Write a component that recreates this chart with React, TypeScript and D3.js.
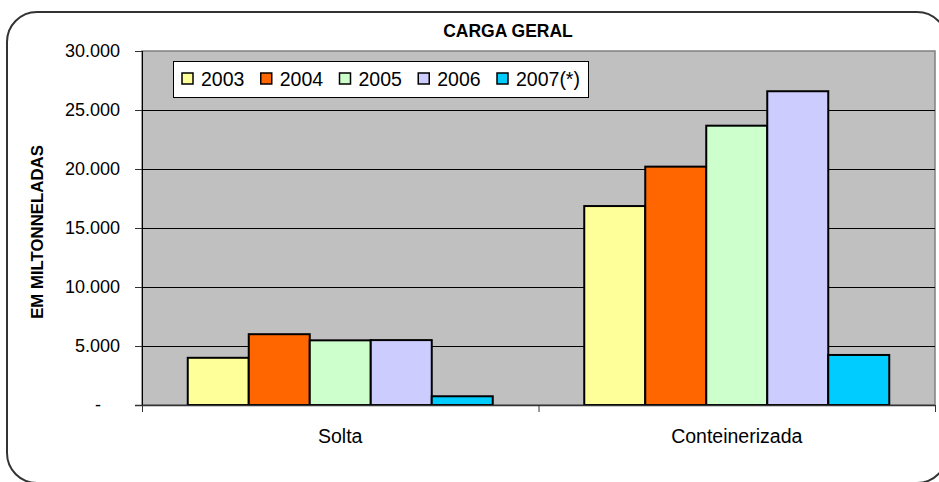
import React from "react";
import * as d3 from "d3";

const categories = ["Solta", "Conteinerizada"];
const series = ["2003", "2004", "2005", "2006", "2007(*)"];
const solta = [4000, 6000, 5480, 5500, 740];
const conteinerizada = [16860, 20200, 23670, 26590, 4240];
const colors = ["#FFFF99", "#FF6600", "#CCFFCC", "#CCCCFF", "#00CCFF"];
const yTicks = [0, 5000, 10000, 15000, 20000, 25000, 30000];
const title = "CARGA GERAL";
const yTitle = "EM MILTONNELADAS";

const W = 939;
const H = 482;
const FONT = "'Liberation Sans', Arial, sans-serif";

export default function App() {
  const plot = { left: 142, right: 935, top: 51, bottom: 405 };
  const y = d3.scaleLinear().domain([0, 30000]).range([plot.bottom, plot.top]);
  const x0 = d3.scaleBand().domain(categories).range([plot.left, plot.right]).padding(0);
  const x1 = d3
    .scaleBand()
    .domain(series)
    .range([0, x0.bandwidth()])
    .paddingInner(0)
    .paddingOuter(0.75);
  const locale = d3.formatLocale({ decimal: ",", thousands: ".", grouping: [3], currency: ["R$", ""] });
  const fmt = locale.format(",.0f");
  const values = [solta, conteinerizada];

  const legendX = d3.scalePoint().domain(series).range([182, 497]);

  return (
    <svg
      width={W}
      height={H}
      style={{ position: "absolute", left: 0, top: 0, fontFamily: FONT }}
    >
      <rect x={0} y={0} width={W} height={H} fill="#fff" />
      <rect
        x={7}
        y={12}
        width={940}
        height={471}
        rx={30}
        ry={30}
        fill="#fff"
        stroke="#333"
        strokeWidth={2}
      />
      <text x={508} y={37} textAnchor="middle" fontSize={17.5} fontWeight="bold" fill="#000">
        {title}
      </text>
      {/* plot area */}
      <rect
        x={plot.left}
        y={plot.top}
        width={plot.right - plot.left}
        height={plot.bottom - plot.top}
        fill="#C0C0C0"
        stroke="#808080"
        strokeWidth={1.5}
      />
      {yTicks.slice(1, -1).map((t) => (
        <line
          key={t}
          x1={plot.left}
          x2={plot.right}
          y1={Math.round(y(t)) + 0.5}
          y2={Math.round(y(t)) + 0.5}
          stroke="#000"
          strokeWidth={1}
        />
      ))}
      {/* bars */}
      {categories.map((c, ci) => (
        <g key={c} transform={`translate(${x0(c)},0)`}>
          {series.map((s, si) => (
            <rect
              key={s}
              x={x1(s)}
              y={y(values[ci][si])}
              width={x1.bandwidth()}
              height={plot.bottom - y(values[ci][si])}
              fill={colors[si]}
              stroke="#000"
              strokeWidth={2}
            />
          ))}
        </g>
      ))}
      {/* axes */}
      <line x1={plot.left + 0.5} x2={plot.left + 0.5} y1={plot.top} y2={plot.bottom + 7} stroke="#000" strokeWidth={1} />
      <line x1={plot.left - 7} x2={plot.right} y1={plot.bottom + 0.5} y2={plot.bottom + 0.5} stroke="#333" strokeWidth={1.5} />
      {yTicks.map((t) => (
        <g key={t}>
          <line x1={plot.left - 7} x2={plot.left} y1={Math.round(y(t)) + 0.5} y2={Math.round(y(t)) + 0.5} stroke="#333" strokeWidth={1} />
          <text
            x={t === 0 ? 101 : 120}
            y={y(t) + 6}
            textAnchor="end"
            fontSize={18}
            fill="#000"
          >
            {t === 0 ? "-" : fmt(t)}
          </text>
        </g>
      ))}
      {[...categories.map((c) => x0(c) as number), plot.right].map((xx, i) => (
        <line key={i} x1={xx + 0.5} x2={xx + 0.5} y1={plot.bottom} y2={plot.bottom + 7} stroke="#333" strokeWidth={1} />
      ))}
      {categories.map((c) => (
        <text
          key={c}
          x={(x0(c) as number) + x0.bandwidth() / 2}
          y={443}
          textAnchor="middle"
          fontSize={19.5}
          fill="#000"
        >
          {c}
        </text>
      ))}
      <text
        transform={`translate(43,232) rotate(-90)`}
        textAnchor="middle"
        fontSize={16.8}
        fontWeight="bold"
        fill="#000"
      >
        {yTitle}
      </text>
      {/* legend */}
      <rect x={173.5} y={61.5} width={415} height={36} fill="#fff" stroke="#000" strokeWidth={1} />
      {series.map((s, i) => (
        <g key={s}>
          <rect
            x={legendX(s)}
            y={73}
            width={11}
            height={11}
            fill={colors[i]}
            stroke="#000"
            strokeWidth={1.5}
          />
          <text x={(legendX(s) as number) + 19} y={86} fontSize={19.5} fill="#000">
            {s}
          </text>
        </g>
      ))}
    </svg>
  );
}
